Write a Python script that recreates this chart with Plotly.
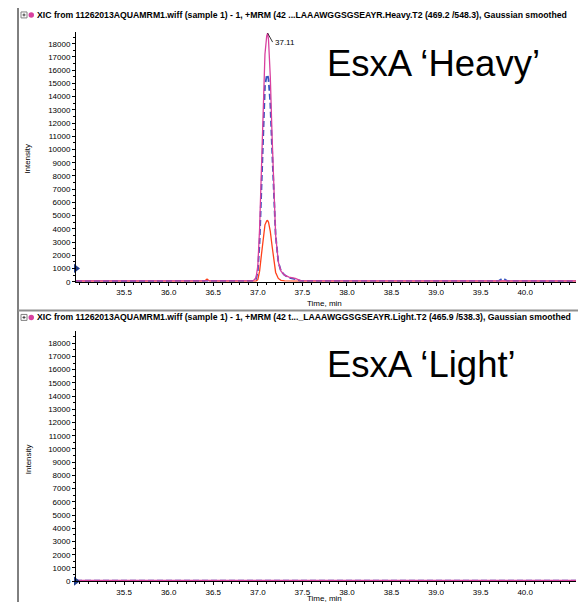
import plotly.graph_objects as go

W, H = 586, 602

# ---------------- data ----------------
heavy_time = [34.96, 36.40, 36.43, 36.46, 36.95, 36.98, 37.00, 37.02, 37.04, 37.06,
              37.08, 37.10, 37.11, 37.12, 37.14, 37.16, 37.18, 37.20, 37.23, 37.26,
              37.30, 37.35, 37.42, 37.48, 39.70, 39.75, 39.80, 40.57]
heavy_magenta = [60, 60, 60, 60, 80, 300, 1200, 4000, 8500, 13500,
                 17200, 18600, 18800, 18300, 15500, 11000, 6800, 3500, 1500, 800,
                 500, 350, 250, 80, 60, 60, 60, 60]
heavy_blue = [50, 50, 50, 50, 60, 200, 800, 3000, 7000, 11500,
              14800, 15600, 15650, 15300, 13500, 10000, 6500, 3500, 1500, 800,
              500, 300, 200, 60, 60, 250, 60, 50]
heavy_red = [40, 40, 200, 40, 40, 50, 150, 800, 2000, 3300,
             4300, 4600, 4620, 4500, 3800, 2700, 1500, 700, 250, 100,
             60, 50, 40, 40, 40, 40, 40, 40]

light_time = [34.96, 36.00, 37.00, 38.00, 39.00, 40.00, 40.57]
light_magenta = [60, 60, 60, 60, 60, 60, 60]
light_blue = [40, 40, 40, 40, 40, 40, 40]
light_red = [30, 30, 30, 30, 30, 30, 30]

peak_time = 37.11
peak_intensity = 18800
peak_label = "37.11"

x_tickvals = [35.5, 36.0, 36.5, 37.0, 37.5, 38.0, 38.5, 39.0, 39.5, 40.0]
x_ticktext = ["35.5", "36.0", "36.5", "37.0", "37.5", "38.0", "38.5", "39.0", "39.5", "40.0"]
y_tickvals = list(range(0, 19000, 1000))
y_ticktext = [str(v) for v in y_tickvals]
x_range = [34.96, 40.57]
y_range = [0, 18900]

threshold_heavy = 1000
threshold_light = 0

header_heavy = ("XIC from 11262013AQUAMRM1.wiff (sample 1) - 1, +MRM (42 ...LAAAWGGSGSEAYR.Heavy.T2 "
                "(469.2 /548.3), Gaussian smoothed")
header_light = ("XIC from 11262013AQUAMRM1.wiff (sample 1) - 1, +MRM (42 t..._LAAAWGGSGSEAYR.Light.T2 "
                "(465.9 /538.3), Gaussian smoothed")
label_heavy = "EsxA \u2018Heavy\u2019"
label_light = "EsxA \u2018Light\u2019"

# ---------------- styling ----------------
MAGENTA = "#d8409f"
BLUE = "#3a55c0"
RED = "#ff3f1a"
ARROW = "#1f3c8c"
SMALL = "Liberation Sans Narrow, Arial Narrow, Liberation Sans, Arial, sans-serif"
ARIAL = "Liberation Sans, Arial, sans-serif"

def px_x(p):
    return p / W

def px_y(p):
    return 1 - p / H

fig = go.Figure()

panels = [
    dict(xa="x", ya="y", t=heavy_time, m=heavy_magenta, b=heavy_blue, r=heavy_red,
         thr=threshold_heavy),
    dict(xa="x2", ya="y2", t=light_time, m=light_magenta, b=light_blue, r=light_red,
         thr=threshold_light),
]
for p in panels:
    fig.add_trace(go.Scatter(x=p["t"], y=p["r"], mode="lines", line=dict(color=RED, width=1.3),
                             xaxis=p["xa"], yaxis=p["ya"], showlegend=False))
    fig.add_trace(go.Scatter(x=p["t"], y=p["b"], mode="lines",
                             line=dict(color=BLUE, width=1.8, dash="6px,3px"),
                             xaxis=p["xa"], yaxis=p["ya"], showlegend=False))
    fig.add_trace(go.Scatter(x=p["t"], y=p["m"], mode="lines", line=dict(color=MAGENTA, width=1.3),
                             xaxis=p["xa"], yaxis=p["ya"], showlegend=False))
    fig.add_trace(go.Scatter(x=[x_range[0]], y=[p["thr"]], mode="markers",
                             marker=dict(symbol="triangle-right", size=8, color=ARROW),
                             cliponaxis=False, xaxis=p["xa"], yaxis=p["ya"], showlegend=False))

axis_common = dict(showline=True, linecolor="black", linewidth=1, showgrid=False, zeroline=False,
                   ticks="outside", ticklen=3, tickcolor="black",
                   tickfont=dict(family=SMALL, size=8, color="black"))

xdom = [px_x(68), px_x(568)]
xminor = dict(dtick=0.1, tick0=35.0, ticks="outside", ticklen=2, tickcolor="black")
yminor = dict(dtick=500, ticks="outside", ticklen=2, tickcolor="black")
fig.update_layout(
    width=W, height=H, margin=dict(l=0, r=0, t=0, b=0),
    paper_bgcolor="white", plot_bgcolor="white",
    xaxis=dict(domain=xdom, range=x_range, anchor="y", tickvals=x_tickvals, ticktext=x_ticktext,
               minor=xminor, **axis_common),
    yaxis=dict(domain=[px_y(276), px_y(24)], range=y_range, anchor="x", tickvals=y_tickvals,
               ticktext=y_ticktext, minor=yminor, **axis_common),
    xaxis2=dict(domain=xdom, range=x_range, anchor="y2", tickvals=x_tickvals, ticktext=x_ticktext,
                minor=xminor, **axis_common),
    yaxis2=dict(domain=[px_y(578), px_y(326)], range=y_range, anchor="x2", tickvals=y_tickvals,
                ticktext=y_ticktext, minor=yminor, **axis_common),
)

ann = []
shapes = []
for hy, ly, ty, iy, header, label in [(7, 56, 304, 152, header_heavy, label_heavy),
                                      (312, 359, 601, 455, header_light, label_light)]:
    ann.append(dict(xref="paper", yref="paper", x=px_x(27), y=px_y(hy), text="<b>" + header + "</b>",
                    showarrow=False, xanchor="left", yanchor="middle",
                    font=dict(family=SMALL, size=8.7, color="black")))
    ann.append(dict(xref="paper", yref="paper", x=px_x(317), y=px_y(ly), text=label,
                    showarrow=False, xanchor="left", yanchor="middle",
                    font=dict(family=ARIAL, size=36.5, color="black")))
    ann.append(dict(xref="paper", yref="paper", x=px_x(316), y=px_y(ty), text="Time, min",
                    showarrow=False, xanchor="center", yanchor="bottom", borderpad=0,
                    font=dict(family=SMALL, size=8, color="black")))
    ann.append(dict(xref="paper", yref="paper", x=px_x(20), y=px_y(iy), text="Intensity",
                    showarrow=False, textangle=-90, xanchor="center", yanchor="middle",
                    font=dict(family=SMALL, size=8, color="black")))
    # expand box and coloured dot in the header
    shapes.append(dict(type="rect", xref="paper", yref="paper", x0=px_x(13), x1=px_x(19),
                       y0=px_y(hy + 3), y1=px_y(hy - 3), line=dict(color="#808080", width=1)))
    shapes.append(dict(type="line", xref="paper", yref="paper", x0=px_x(14.5), x1=px_x(17.5),
                       y0=px_y(hy), y1=px_y(hy), line=dict(color="#404040", width=1)))
    shapes.append(dict(type="line", xref="paper", yref="paper", x0=px_x(16), x1=px_x(16),
                       y0=px_y(hy - 1.5), y1=px_y(hy + 1.5), line=dict(color="#404040", width=1)))
    shapes.append(dict(type="circle", xref="paper", yref="paper", x0=px_x(20.5), x1=px_x(26),
                       y0=px_y(hy + 2.8), y1=px_y(hy - 2.8), fillcolor=MAGENTA,
                       line=dict(color=MAGENTA, width=0)))

ann.append(dict(xref="x", yref="y", x=peak_time, y=peak_intensity, text=peak_label,
                showarrow=True, arrowhead=0, arrowwidth=0.8, arrowcolor="black", ax=5, ay=9,
                xanchor="left", yanchor="middle", font=dict(family=SMALL, size=8, color="black")))

# frame lines
shapes.append(dict(type="line", xref="paper", yref="paper", x0=px_x(10), x1=px_x(10),
                   y0=0, y1=1, line=dict(color="black", width=1)))
shapes.append(dict(type="line", xref="paper", yref="paper", x0=px_x(10), x1=1,
                   y0=px_y(305), y1=px_y(305), line=dict(color="#909090", width=2)))

fig.update_layout(annotations=ann, shapes=shapes)
fig.write_html("out.html")
